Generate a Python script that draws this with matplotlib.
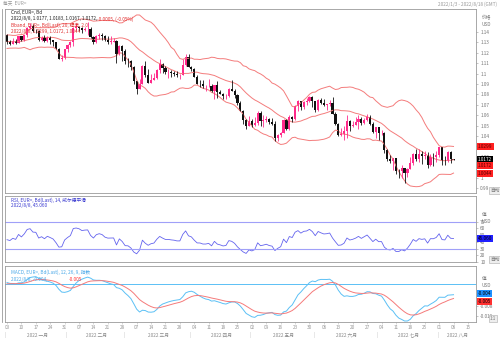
import numpy as np
import pandas as pd
import matplotlib
matplotlib.use('agg')
import matplotlib.pyplot as plt
from matplotlib import transforms

plt.rcParams['font.family'] = ['Noto Sans CJK SC', 'DejaVu Sans']

# closes before the first candle, only used to warm up the indicators
warmup_closes = [1.1369, 1.1320, 1.1319, 1.1369, 1.1289, 1.1236, 1.1248, 1.1197, 1.1208, 1.1318,
                 1.1289, 1.1338, 1.1320, 1.1303, 1.1316, 1.1285, 1.1267, 1.1343, 1.1290, 1.1316,
                 1.1284, 1.1258, 1.1289, 1.1330, 1.1238, 1.1280, 1.1280, 1.1329, 1.1330, 1.1321,
                 1.1327, 1.1311, 1.1350, 1.1323, 1.1370]

# daily EUR= candles, 2022/1/3 .. 2022/8/8
opens = [1.1370, 1.1299, 1.1285, 1.1312, 1.1296, 1.1360, 1.1325, 1.1368, 1.1441, 1.1455,
         1.1411, 1.1408, 1.1324, 1.1343, 1.1311, 1.1344, 1.1325, 1.1303, 1.1241, 1.1144,
         1.1148, 1.1235, 1.1272, 1.1302, 1.1440, 1.1452, 1.1441, 1.1415, 1.1424, 1.1427,
         1.1349, 1.1306, 1.1358, 1.1374, 1.1361, 1.1322, 1.1307, 1.1308, 1.1309, 1.1192,
         1.1270, 1.1219, 1.1125, 1.1121, 1.1065, 1.0930, 1.0854, 1.0904, 1.1076, 1.0982,
         1.0912, 1.0943, 1.0955, 1.1030, 1.1092, 1.1050, 1.1015, 1.1016, 1.1005, 1.0998,
         1.0983, 1.0983, 1.1087, 1.1158, 1.1067, 1.1045, 1.0972, 1.0904, 1.0902, 1.0876,
         1.0876, 1.0885, 1.0828, 1.0889, 1.0827, 1.0808, 1.0782, 1.0788, 1.0851, 1.0837,
         1.0797, 1.0715, 1.0640, 1.0557, 1.0498, 1.0544, 1.0507, 1.0524, 1.0620, 1.0540,
         1.0550, 1.0562, 1.0530, 1.0514, 1.0380, 1.0411, 1.0433, 1.0553, 1.0464, 1.0586,
         1.0562, 1.0690, 1.0733, 1.0678, 1.0725, 1.0734, 1.0777, 1.0733, 1.0648, 1.0750,
         1.0720, 1.0697, 1.0703, 1.0717, 1.0614, 1.0519, 1.0410, 1.0416, 1.0447, 1.0547,
         1.0495, 1.0509, 1.0531, 1.0565, 1.0522, 1.0554, 1.0585, 1.0518, 1.0442, 1.0484,
         1.0425, 1.0426, 1.0265, 1.0183, 1.0162, 1.0186, 1.0065, 1.0062, 1.0088, 1.0044,
         1.0083, 1.0143, 1.0226, 1.0179, 1.0229, 1.0212, 1.0222, 1.0119, 1.0199, 1.0197,
         1.0220, 1.0292, 1.0163, 1.0155, 1.0249, 1.0177]
highs = [1.1376, 1.1321, 1.1346, 1.1332, 1.1365, 1.1362, 1.1375, 1.1449, 1.1483, 1.1474,
         1.1428, 1.1416, 1.1357, 1.1370, 1.1363, 1.1358, 1.1327, 1.1307, 1.1250, 1.1174,
         1.1236, 1.1286, 1.1318, 1.1450, 1.1484, 1.1453, 1.1446, 1.1449, 1.1495, 1.1444,
         1.1366, 1.1369, 1.1395, 1.1394, 1.1374, 1.1366, 1.1361, 1.1345, 1.1325, 1.1274,
         1.1275, 1.1234, 1.1153, 1.1126, 1.1071, 1.0931, 1.0952, 1.1087, 1.1121, 1.1043,
         1.0994, 1.1007, 1.1045, 1.1137, 1.1105, 1.1070, 1.1044, 1.1039, 1.1022, 1.1029,
         1.0998, 1.1137, 1.1185, 1.1184, 1.1076, 1.1054, 1.0989, 1.0939, 1.0937, 1.0893,
         1.0947, 1.0902, 1.0890, 1.0924, 1.0838, 1.0818, 1.0808, 1.0864, 1.0936, 1.0851,
         1.0799, 1.0737, 1.0654, 1.0568, 1.0592, 1.0561, 1.0580, 1.0642, 1.0641, 1.0600,
         1.0593, 1.0576, 1.0577, 1.0540, 1.0423, 1.0442, 1.0564, 1.0565, 1.0606, 1.0597,
         1.0697, 1.0748, 1.0737, 1.0740, 1.0765, 1.0787, 1.0785, 1.0737, 1.0757, 1.0764,
         1.0752, 1.0712, 1.0748, 1.0773, 1.0634, 1.0528, 1.0475, 1.0500, 1.0601, 1.0550,
         1.0545, 1.0582, 1.0606, 1.0580, 1.0572, 1.0614, 1.0606, 1.0537, 1.0485, 1.0486,
         1.0462, 1.0436, 1.0276, 1.0215, 1.0189, 1.0192, 1.0085, 1.0122, 1.0090, 1.0097,
         1.0199, 1.0233, 1.0272, 1.0278, 1.0256, 1.0255, 1.0248, 1.0223, 1.0235, 1.0254,
         1.0295, 1.0294, 1.0212, 1.0254, 1.0253, 1.0183]
lows = [1.1280, 1.1272, 1.1284, 1.1286, 1.1290, 1.1314, 1.1316, 1.1356, 1.1431, 1.1399,
        1.1394, 1.1315, 1.1313, 1.1301, 1.1302, 1.1285, 1.1263, 1.1235, 1.1137, 1.1121,
        1.1140, 1.1211, 1.1256, 1.1270, 1.1412, 1.1406, 1.1394, 1.1405, 1.1374, 1.1340,
        1.1280, 1.1291, 1.1331, 1.1327, 1.1315, 1.1287, 1.1289, 1.1302, 1.1106, 1.1181,
        1.1123, 1.1088, 1.1059, 1.1034, 1.0900, 1.0806, 1.0853, 1.0900, 1.0969, 1.0905,
        1.0912, 1.0934, 1.0950, 1.1005, 1.1010, 1.0995, 1.0962, 1.0964, 1.0980, 1.0972,
        1.0945, 1.0984, 1.1072, 1.1060, 1.1027, 1.0967, 1.0900, 1.0871, 1.0866, 1.0837,
        1.0869, 1.0821, 1.0757, 1.0763, 1.0800, 1.0758, 1.0759, 1.0776, 1.0830, 1.0766,
        1.0697, 1.0637, 1.0514, 1.0472, 1.0494, 1.0489, 1.0492, 1.0505, 1.0494, 1.0484,
        1.0536, 1.0518, 1.0507, 1.0354, 1.0350, 1.0390, 1.0428, 1.0461, 1.0461, 1.0532,
        1.0556, 1.0642, 1.0646, 1.0662, 1.0700, 1.0725, 1.0683, 1.0627, 1.0641, 1.0707,
        1.0685, 1.0653, 1.0687, 1.0612, 1.0505, 1.0398, 1.0398, 1.0358, 1.0382, 1.0445,
        1.0483, 1.0504, 1.0469, 1.0508, 1.0512, 1.0545, 1.0508, 1.0431, 1.0382, 1.0366,
        1.0408, 1.0236, 1.0162, 1.0144, 1.0072, 1.0034, 0.9999, 0.9999, 0.9952, 1.0005,
        1.0085, 1.0124, 1.0155, 1.0153, 1.0130, 1.0183, 1.0096, 1.0109, 1.0114, 1.0146,
        1.0201, 1.0123, 1.0123, 1.0150, 1.0141, 1.0167]
closes = [1.1299, 1.1285, 1.1312, 1.1296, 1.1360, 1.1325, 1.1368, 1.1441, 1.1455, 1.1411,
          1.1408, 1.1324, 1.1343, 1.1311, 1.1344, 1.1325, 1.1303, 1.1241, 1.1144, 1.1148,
          1.1235, 1.1272, 1.1302, 1.1440, 1.1452, 1.1441, 1.1415, 1.1424, 1.1427, 1.1349,
          1.1306, 1.1358, 1.1374, 1.1361, 1.1322, 1.1307, 1.1308, 1.1309, 1.1192, 1.1270,
          1.1219, 1.1125, 1.1121, 1.1065, 1.0930, 1.0854, 1.0904, 1.1076, 1.0982, 1.0912,
          1.0943, 1.0955, 1.1030, 1.1092, 1.1050, 1.1015, 1.1016, 1.1005, 1.0998, 1.0983,
          1.0983, 1.1087, 1.1158, 1.1067, 1.1045, 1.0972, 1.0904, 1.0902, 1.0876, 1.0876,
          1.0885, 1.0828, 1.0889, 1.0827, 1.0808, 1.0782, 1.0788, 1.0851, 1.0837, 1.0797,
          1.0715, 1.0640, 1.0557, 1.0498, 1.0544, 1.0507, 1.0524, 1.0620, 1.0540, 1.0550,
          1.0562, 1.0530, 1.0514, 1.0380, 1.0411, 1.0433, 1.0553, 1.0464, 1.0586, 1.0562,
          1.0690, 1.0733, 1.0678, 1.0725, 1.0734, 1.0777, 1.0733, 1.0648, 1.0750, 1.0720,
          1.0697, 1.0703, 1.0717, 1.0614, 1.0519, 1.0410, 1.0416, 1.0447, 1.0547, 1.0495,
          1.0509, 1.0531, 1.0565, 1.0522, 1.0554, 1.0585, 1.0518, 1.0442, 1.0484, 1.0425,
          1.0426, 1.0265, 1.0183, 1.0162, 1.0186, 1.0065, 1.0062, 1.0088, 1.0044, 1.0083,
          1.0143, 1.0226, 1.0179, 1.0229, 1.0212, 1.0222, 1.0119, 1.0199, 1.0197, 1.0220,
          1.0292, 1.0163, 1.0155, 1.0249, 1.0177, 1.0172]

# weekly tick labels (mondays) and month captions
week_days = ['03', '10', '17', '24', '31', '07', '14', '21', '28', '07', '14', '21', '28',
             '04', '11', '18', '25', '02', '09', '16', '23', '30', '06', '13', '20', '27',
             '04', '11', '18', '25', '01', '08', '15']
months = ['2022 一月', '2022 二月', '2022 三月', '2022 四月',
          '2022 五月', '2022 六月', '2022 七月', '2022 八月']
month_starts = [0, 21, 41, 64, 85, 107, 129, 150, 163]

UP = '#ff2a8a'
DOWN = '#111111'
BAND = '#f47c7c'
RSI_C = '#6464ee'
MACD_C = '#5bc0f5'
SIG_C = '#f57a7a'
GREY = '#777777'
FS = 3.4

W, H = 500, 340
fig = plt.figure(figsize=(5, 3.4), dpi=100)


def px_axes(left, top, right, bottom):
    return fig.add_axes([left / W, 1 - bottom / H, (right - left) / W, (bottom - top) / H])


def style(ax):
    for s in ax.spines.values():
        s.set_color('#9a9a9a')
        s.set_linewidth(0.6)
    ax.yaxis.tick_right()
    ax.tick_params(axis='y', length=1.5, width=0.4, colors='#9a9a9a', labelcolor=GREY,
                   labelsize=FS, pad=1.5)
    ax.tick_params(axis='x', length=0, labelbottom=False)
    ax.set_xlim(-0.7, 162.8)


def value_box(ax, y, text, fc, tc, dy=0):
    tr = transforms.blended_transform_factory(ax.transAxes, ax.transData)
    ax.annotate(text, xy=(1.0, y), xycoords=tr, xytext=(1.5, dy), textcoords='offset points',
                ha='left', va='center', fontsize=FS, color=tc, annotation_clip=False, zorder=5,
                bbox=dict(boxstyle='square,pad=0.2', fc=fc, ec='none'))


# indicators on the full close history
n0 = len(warmup_closes)
s = pd.Series(warmup_closes + closes)
mid = s.rolling(20).mean()
sd = s.rolling(20).std(ddof=0)
upper = (mid + 2 * sd).values[n0:]
lower = (mid - 2 * sd).values[n0:]
mid = mid.values[n0:]

delta = s.diff()
gain = delta.clip(lower=0).ewm(alpha=1 / 14, adjust=False).mean()
loss = (-delta.clip(upper=0)).ewm(alpha=1 / 14, adjust=False).mean()
rsi = (100 - 100 / (1 + gain / loss)).values[n0:]

macd = s.ewm(span=12, adjust=False).mean() - s.ewm(span=26, adjust=False).mean()
signal = macd.ewm(span=9, adjust=False).mean()
macd = macd.values[n0:]
signal = signal.values[n0:]

x = np.arange(len(closes))
o = np.array(opens)
c = np.array(closes)
hi = np.array(highs)
lo = np.array(lows)
col = np.where(c >= o, UP, DOWN)

# ---- price panel ----
ax = px_axes(5, 9, 476, 193)
style(ax)
ax.plot(x, upper, color=BAND, lw=0.7)
ax.plot(x, mid, color=BAND, lw=0.7)
ax.plot(x, lower, color=BAND, lw=0.7)
ax.vlines(x, lo, hi, colors=col, lw=0.6)
body = np.maximum(np.abs(c - o), 0.00025)
ax.bar(x, body, bottom=np.minimum(o, c), width=0.75, color=col, linewidth=0)
ax.set_ylim(0.9852, 1.1621)
ax.set_yticks(np.round(np.arange(0.99, 1.145, 0.01), 2))
ax.yaxis.set_major_formatter(matplotlib.ticker.FuncFormatter(lambda v, p: '%g' % round(v, 2)))
value_box(ax, upper[-1], '%.4f' % upper[-1], '#ff2020', '#5a0000')
value_box(ax, c[-1], '%.4f' % c[-1], 'black', 'white')
value_box(ax, mid[-1], '%.4f' % mid[-1], '#ff2020', '#5a0000', dy=-4)
value_box(ax, lower[-1], '%.4f' % lower[-1], '#ff2020', '#5a0000')
ax.text(1.012, 0.95, '价格', transform=ax.transAxes, fontsize=FS, color=GREY, va='center')
ax.text(1.012, 0.915, 'USD', transform=ax.transAxes, fontsize=FS, color=GREY, va='center')
ax.text(0.012, 0.98, 'Cnd, EUR=, Bd', transform=ax.transAxes, fontsize=FS, color='#222222', va='center')
ax.text(0.012, 0.946, '2022/8/8, 1.0177, 1.0183, 1.0167, 1.0172, ', transform=ax.transAxes,
        fontsize=FS, color='#222222', va='center')
ax.text(0.196, 0.946, '-0.0005, (-0.05%)', transform=ax.transAxes, fontsize=FS, color='#e03030', va='center')
ax.text(0.012, 0.912, 'Bband, EUR=, Bd(Last), 20, 標準, 2.0', transform=ax.transAxes,
        fontsize=FS, color='#e03030', va='center')
ax.text(0.012, 0.878, '2022/8/8, %.4f, %.4f, %.4f' % (upper[-1], mid[-1], lower[-1]),
        transform=ax.transAxes, fontsize=FS, color='#e03030', va='center')

# ---- RSI panel ----
ar = px_axes(5, 196, 476, 262)
style(ar)
ar.plot(x, rsi, color=RSI_C, lw=0.6)
ar.axhline(70, color='#a0a0f8', lw=0.8)
ar.axhline(30, color='#a0a0f8', lw=0.8)
ar.set_ylim(10.7, 108.5)
ar.set_yticks([10, 20, 30, 40, 50, 60, 70])
value_box(ar, rsi[-1], '%.3f' % rsi[-1], '#2020ff', 'black')
ar.text(1.012, 0.72, '值', transform=ar.transAxes, fontsize=FS, color=GREY, va='center')
ar.text(1.012, 0.62, 'USD', transform=ar.transAxes, fontsize=FS, color=GREY, va='center')
ar.text(0.012, 0.93, 'RSI, EUR=, Bd(Last), 14, 威尔德平滑', transform=ar.transAxes,
        fontsize=FS, color='#3a3ad0', va='center')
ar.text(0.012, 0.85, '2022/8/8, %.3f' % rsi[-1], transform=ar.transAxes,
        fontsize=FS, color='#3a3ad0', va='center')

# ---- MACD panel ----
am = px_axes(5, 266, 476, 322)
style(am)
am.axhline(0, color=MACD_C, lw=0.7)
am.plot(x, macd, color=MACD_C, lw=0.7)
am.plot(x, signal, color=SIG_C, lw=0.7)
am.set_ylim(-0.0141, 0.0067)
am.set_yticks([-0.012, -0.008])
am.yaxis.set_major_formatter(matplotlib.ticker.FuncFormatter(lambda v, p: '%.3f' % v))
value_box(am, macd[-1], '%.3f' % macd[-1], '#1e90ff', 'black', dy=1)
value_box(am, signal[-1], '%.3f' % signal[-1], '#ff3030', 'black', dy=-2)
am.text(1.012, 0.78, '值', transform=am.transAxes, fontsize=FS, color=GREY, va='center')
am.text(1.012, 0.66, 'USD', transform=am.transAxes, fontsize=FS, color=GREY, va='center')
am.text(0.012, 0.88, 'MACD, EUR=, Bd(Last), 12, 26, 9, 指数', transform=am.transAxes,
        fontsize=FS, color='#4aa8e8', va='center')
am.text(0.012, 0.76, '2022/8/8, %.3f, ' % macd[-1], transform=am.transAxes,
        fontsize=FS, color='#4aa8e8', va='center')
am.text(0.135, 0.76, '%.3f' % signal[-1], transform=am.transAxes,
        fontsize=FS, color='#ff3030', va='center')

# date axis under the last panel
am.set_xticks(np.arange(len(week_days)) * 5)
am.set_xticklabels(week_days)
am.tick_params(axis='x', length=1.5, width=0.4, colors='#bbbbbb', labelcolor='#999999',
               labelsize=FS, pad=1, labelbottom=True)
tr = transforms.blended_transform_factory(am.transData, am.transAxes)
for k, name in enumerate(months):
    a, b = month_starts[k], min(month_starts[k + 1], 162.8)
    am.text(a - 0.5, -0.235, '|', transform=tr, fontsize=FS, color='#aaaaaa', ha='center', va='center')
    am.text((a + b) / 2, -0.235, name, transform=tr, fontsize=FS, color='#888888',
            ha='center', va='center')

# corner buttons and header
for a_ in (ax, ar):
    a_.text(1.03, 0.0, '自动', transform=a_.transAxes, fontsize=FS, color=GREY, va='bottom',
            bbox=dict(boxstyle='square,pad=0.2', fc='#eeeeee', ec='#aaaaaa', lw=0.4))
am.text(1.03, 0.02, '1:1', transform=am.transAxes, fontsize=FS, color=GREY, va='bottom',
        bbox=dict(boxstyle='square,pad=0.2', fc='#eeeeee', ec='#aaaaaa', lw=0.4))
fig.text(3 / W, 1 - 4 / H, '每天  EUR=', fontsize=FS, color='#999999', va='center')
fig.text(497 / W, 1 - 4 / H, '2022/1/3 - 2022/8/18 (GMT)', fontsize=FS, color='#999999',
         va='center', ha='right')
fig.add_artist(plt.Line2D([2 / W, 2 / W], [1 - 9 / H, 1 - 322 / H], color='#9a9a9a', lw=0.6))

fig.savefig('out.png', dpi=100)
